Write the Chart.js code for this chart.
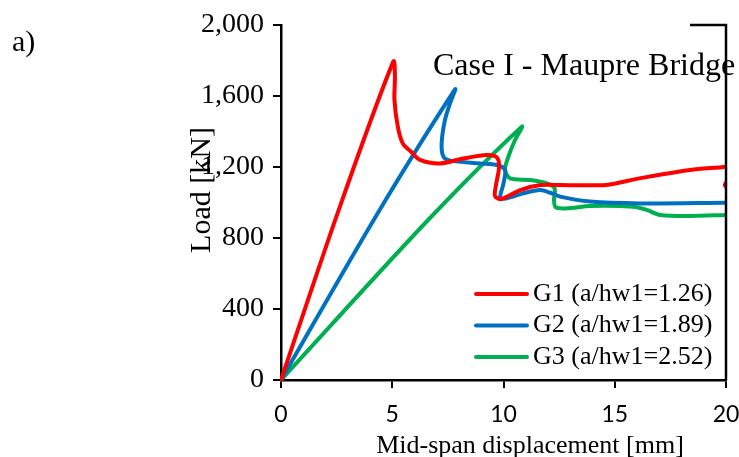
<!DOCTYPE html>
<html>
<head>
<meta charset="utf-8">
<script src="https://cdn.jsdelivr.net/npm/chart.js@4.4.0/dist/chart.umd.min.js"></script>
<style>
  html, body { margin: 0; padding: 0; background: #fff; }
  #wrap { width: 739px; height: 457px; }
</style>
</head>
<body>
<div id="wrap"><canvas id="loadChart" width="739" height="457"></canvas></div>
<script>
// Load vs mid-span displacement, three girders
var g1X = [0, 2.6, 5.05, 5.12, 5.1, 5.25, 5.47, 5.85, 6.25, 7.15, 8.2, 9.25, 9.7, 9.8, 9.65, 9.62, 9.9, 10.75, 11.6, 12.5, 14.6, 16.1, 18.4, 20, 20.6, 20.3, 19.95, 20.4];
var g1Y = [0, 960, 1795, 1720, 1577, 1427, 1333, 1286, 1240, 1220, 1248, 1268, 1254, 1200, 1090, 1035, 1020, 1070, 1097, 1099, 1099, 1136, 1183, 1202, 1215, 1150, 1098, 1060];

var g2X = [0, 4.3, 7.82, 7.6, 7.37, 7.22, 7.3, 7.6, 8.95, 9.7, 10.07, 10.0, 9.85, 10.15, 10.9, 11.65, 12.1, 12.55, 13.9, 16.1, 20];
var g2Y = [0, 930, 1637, 1560, 1465, 1333, 1258, 1236, 1220, 1211, 1183, 1108, 1024, 1024, 1052, 1070, 1055, 1033, 1005, 995, 999];

var g3X = [0, 6.6, 10.82, 10.52, 10.22, 10.07, 10.3, 11.2, 11.95, 12.3, 12.27, 12.35, 12.85, 13.9, 15.84, 16.44, 17.04, 18.4, 20];
var g3Y = [0, 900, 1427, 1352, 1258, 1183, 1136, 1127, 1108, 1079, 1014, 973, 967, 980, 976, 958, 930, 924, 930];

var seriesNames = ['G1 (a/hw1=1.26)', 'G2 (a/hw1=1.89)', 'G3 (a/hw1=2.52)'];
var seriesColors = ['#FF0000', '#0070C0', '#00B050'];

var xTicks = [0, 5, 10, 15, 20];
var yTicks = [0, 400, 800, 1200, 1600, 2000];

var SERIF = '"Liberation Serif", "Times New Roman", serif';

function toPoints(xs, ys) {
    return xs.map(function(x, i) { return { x: x, y: ys[i] }; });
}

// Draws the panel letter, inner title, axis titles, legend and right frame
var extrasPlugin = {
    id: 'extras',
    afterDraw: function(chart) {
        var ctx = chart.ctx;
        var area = chart.chartArea;
        ctx.save();
        ctx.fillStyle = '#000';

        // right frame line with the short top piece
        ctx.strokeStyle = '#000';
        ctx.lineWidth = 2.5;
        ctx.beginPath();
        ctx.moveTo(690, area.top);
        ctx.lineTo(area.right, area.top);
        ctx.lineTo(area.right, area.bottom);
        ctx.stroke();

        ctx.font = '30px ' + SERIF;
        ctx.textAlign = 'left';
        ctx.textBaseline = 'alphabetic';
        ctx.fillText('a)', 12, 51);

        ctx.font = '32px ' + SERIF;
        ctx.fillText('Case I - Maupre Bridge', 433, 75);

        ctx.font = '26px ' + SERIF;
        ctx.textAlign = 'center';
        ctx.fillText('Mid-span displacement [mm]', 530, 453);

        ctx.save();
        ctx.translate(210, 190);
        ctx.rotate(-Math.PI / 2);
        ctx.font = '30px ' + SERIF;
        ctx.textBaseline = 'alphabetic';
        ctx.fillText('Load [kN]', 0, 0);
        ctx.restore();

        // legend
        ctx.font = '26px ' + SERIF;
        ctx.textAlign = 'left';
        ctx.textBaseline = 'middle';
        chart.data.datasets.forEach(function(ds, i) {
            var y = 294 + i * 31.5;
            ctx.strokeStyle = ds.borderColor;
            ctx.lineWidth = 4;
            ctx.lineCap = 'round';
            ctx.beginPath();
            ctx.moveTo(476, y);
            ctx.lineTo(527, y);
            ctx.stroke();
            ctx.fillText(ds.label, 533, y);
        });
        ctx.restore();
    }
};

var ctx = document.getElementById('loadChart').getContext('2d');
var loadChart = new Chart(ctx, {
    type: 'line',
    data: {
        datasets: [
            { label: seriesNames[0], data: toPoints(g1X, g1Y), borderColor: seriesColors[0] },
            { label: seriesNames[1], data: toPoints(g2X, g2Y), borderColor: seriesColors[1] },
            { label: seriesNames[2], data: toPoints(g3X, g3Y), borderColor: seriesColors[2] }
        ]
    },
    options: {
        responsive: false,
        animation: false,
        devicePixelRatio: 1,
        layout: { padding: { left: 0, top: 25, right: 13, bottom: 0 } },
        elements: {
            line: { borderWidth: 4, tension: 0.3, fill: false, borderCapStyle: 'round', borderJoinStyle: 'round' },
            point: { radius: 0, hoverRadius: 0 }
        },
        datasets: { line: { clip: 1 } },
        plugins: {
            legend: { display: false },
            title: { display: false },
            tooltip: { enabled: false }
        },
        scales: {
            x: {
                type: 'linear',
                min: 0,
                max: 20,
                afterBuildTicks: function(scale) {
                    scale.ticks = xTicks.map(function(v) { return { value: v }; });
                },
                ticks: {
                    color: '#000',
                    font: { family: 'Lato', size: 23 },
                    padding: 13,
                    maxRotation: 0
                },
                grid: {
                    drawOnChartArea: false,
                    drawTicks: true,
                    tickLength: 8,
                    color: '#000',
                    lineWidth: 2
                },
                border: { display: true, color: '#000', width: 2.5 },
                afterFit: function(scale) {
                    scale.height = 77;
                    scale.paddingLeft = 0;
                    scale.paddingRight = 0;
                }
            },
            y: {
                type: 'linear',
                min: 0,
                max: 2000,
                afterBuildTicks: function(scale) {
                    scale.ticks = yTicks.map(function(v) { return { value: v }; });
                },
                ticks: {
                    color: '#000',
                    font: { family: SERIF, size: 28 },
                    padding: 9,
                    callback: function(v) { return v.toLocaleString('en-US'); }
                },
                grid: {
                    drawOnChartArea: false,
                    drawTicks: true,
                    tickLength: 8,
                    color: '#000',
                    lineWidth: 2
                },
                border: { display: true, color: '#000', width: 2.5 },
                afterFit: function(scale) {
                    scale.width = 281;
                    scale.paddingTop = 0;
                    scale.paddingBottom = 0;
                }
            }
        }
    },
    plugins: [extrasPlugin]
});
</script>
</body>
</html>
